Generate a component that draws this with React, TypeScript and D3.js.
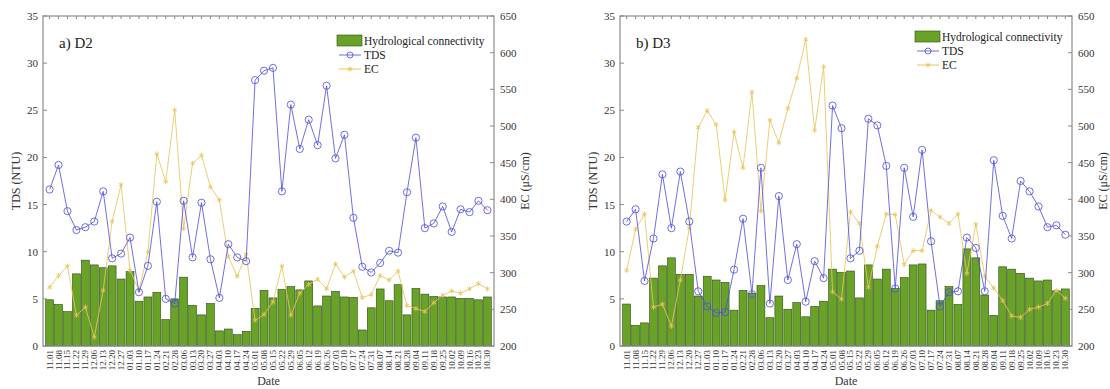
import React from 'react';
import * as d3 from 'd3';

// weekly sampling dates (same for both sites)
const dates = [
  '11.01', '11.08', '11.15', '11.22', '11.29', '12.06', '12.13', '12.20', '12.27', '01.03',
  '01.10', '01.17', '01.24', '02.21', '02.28', '03.06', '03.13', '03.20', '03.27', '04.03',
  '04.10', '04.17', '04.24', '05.01', '05.08', '05.15', '05.22', '05.29', '06.05', '06.12',
  '06.19', '06.26', '07.03', '07.10', '07.17', '07.24', '07.31', '08.07', '08.14', '08.21',
  '08.28', '09.04', '09.11', '09.18', '09.25', '10.02', '10.09', '10.16', '10.23', '10.30',
];

const tdsTicks = [0, 5, 10, 15, 20, 25, 30, 35];
const ecTicks = [200, 250, 300, 350, 400, 450, 500, 550, 600, 650];

// D2
const d2Connectivity = [
  4.9, 4.4, 3.65, 7.65, 9.1, 8.6, 8.3, 8.5, 7.1, 7.9,
  4.75, 5.2, 5.7, 2.8, 5.0, 7.3, 4.3, 3.3, 4.5, 1.6,
  1.8, 1.2, 1.55, 4.0, 5.9, 5.1, 6.0, 6.3, 5.95, 6.9,
  4.25, 5.3, 5.8, 5.2, 5.15, 1.7, 4.05, 6.05, 4.8, 6.5,
  3.3, 6.1, 5.5, 5.25, 5.2, 5.2, 5.05, 5.05, 4.9, 5.2,
];
const d2Tds = [
  16.6, 19.2, 14.3, 12.3, 12.6, 13.2, 16.4, 9.3, 9.8, 11.5,
  5.7, 8.5, 15.3, 5.0, 4.5, 15.4, 9.4, 15.2, 9.2, 5.1,
  10.8, 9.4, 9.0, 28.2, 29.2, 29.5, 16.4, 25.6, 20.9, 24.0,
  21.3, 27.6, 19.9, 22.4, 13.6, 8.4, 7.8, 8.8, 10.1, 9.9,
  16.3, 22.1, 12.5, 13.0, 14.8, 12.1, 14.5, 14.2, 15.4, 14.4,
];
const d2Ec = [
  280, 296, 309, 242, 253, 212, 276, 370, 420, 303,
  276, 328, 462, 424, 522, 360, 449, 460, 417, 399,
  322, 295, 325, 235, 243, 260, 309, 242, 272, 284,
  291, 278, 312, 294, 302, 266, 270, 296, 290, 302,
  255, 251, 247, 259, 269, 275, 272, 278, 285, 278,
];

// D3
const d3Connectivity = [
  4.45, 2.2, 2.45, 7.2, 8.5, 9.35, 7.6, 7.6, 5.3, 7.4,
  7.0, 6.75, 3.8, 5.9, 5.6, 6.4, 3.0, 5.3, 3.9, 4.6,
  3.1, 4.2, 4.75, 8.15, 7.8, 7.95, 5.1, 8.6, 7.1, 8.15,
  6.1, 7.25, 8.6, 8.7, 3.8, 4.8, 6.3, 4.4, 10.3, 9.35,
  5.4, 3.25, 8.4, 8.15, 7.7, 7.2, 6.9, 7.0, 5.85, 6.05,
];
const d3Tds = [
  13.2, 14.5, 6.9, 11.4, 18.2, 12.5, 18.5, 13.2, 5.8, 4.2,
  3.5, 3.6, 8.1, 13.5, 5.5, 18.9, 4.5, 15.9, 7.0, 10.8,
  4.7, 9.0, 7.2, 25.5, 23.1, 9.3, 10.1, 24.1, 23.4, 19.1,
  6.1, 18.9, 13.7, 20.8, 11.1, 4.2, 5.7, 5.8, 11.5, 10.4,
  5.8, 19.7, 13.8, 11.4, 17.5, 16.4, 14.8, 12.6, 12.8, 11.8,
];
const d3Ec = [
  303, 359, 380, 253, 257, 227, 290, 361, 498, 521,
  502, 399, 492, 443, 546, 384, 508, 477, 524, 565,
  618, 494, 581, 274, 264, 383, 367, 280, 336, 380,
  379, 311, 330, 330, 385, 376, 367, 380, 299, 366,
  295, 279, 262, 241, 239, 250, 253, 258, 276, 265,
];

const FONT = '"Liberation Serif", "DejaVu Serif", serif';
const GREEN = '#68a328';
const BLUE = '#4b4be0';
const GOLD = '#eac45a';
const AXIS = '#8a8a8a';
const TEXT = '#333';

type PanelProps = {
  x0: number;
  x1: number;
  label: string;
  conn: number[];
  tds: number[];
  ec: number[];
  legendY: number;
};

const top = 16;
const bottom = 346;

const Panel = ({ x0, x1, label, conn, tds, ec, legendY }: PanelProps) => {
  const x = d3.scaleBand<string>().domain(dates).range([x0, x1]).paddingInner(0.12).paddingOuter(0.3);
  const yL = d3.scaleLinear().domain([0, 35]).range([bottom, top]);
  const yR = d3.scaleLinear().domain([200, 650]).range([bottom, top]);
  const cx = (d: string) => (x(d) as number) + x.bandwidth() / 2;

  const tdsLine = d3.line<number>().x((_, i) => cx(dates[i])).y((v) => yL(v));
  const ecLine = d3.line<number>().x((_, i) => cx(dates[i])).y((v) => yR(v));
  const star = d3.symbol().type(d3.symbolAsterisk).size(18)();

  const lx = x1 - 157;

  return (
    <g fontFamily={FONT}>
      {/* bars */}
      {conn.map((v, i) => (
        <rect key={'b' + i} x={x(dates[i])} y={yL(v)} width={x.bandwidth()} height={bottom - yL(v)}
          fill={GREEN} stroke="#2f4a12" strokeWidth={0.6} />
      ))}

      {/* EC */}
      <path d={ecLine(ec) as string} fill="none" stroke={GOLD} strokeWidth={1} opacity={0.85} />
      {ec.map((v, i) => (
        <path key={'e' + i} d={star as string} transform={`translate(${cx(dates[i])},${yR(v)})`}
          fill="none" stroke={GOLD} strokeWidth={1} opacity={0.85} />
      ))}

      {/* TDS */}
      <path d={tdsLine(tds) as string} fill="none" stroke={BLUE} strokeWidth={1} opacity={0.8} />
      {tds.map((v, i) => (
        <circle key={'t' + i} cx={cx(dates[i])} cy={yL(v)} r={3.6} fill="none" stroke={BLUE}
          strokeWidth={1} opacity={0.8} />
      ))}

      {/* frame */}
      <rect x={x0} y={top} width={x1 - x0} height={bottom - top} fill="none" stroke={AXIS} strokeWidth={1.2} />

      {/* category ticks top & bottom */}
      {dates.map((d) => (
        <g key={'tk' + d}>
          <line x1={cx(d)} x2={cx(d)} y1={top} y2={top + 3} stroke={AXIS} />
          <line x1={cx(d)} x2={cx(d)} y1={bottom} y2={bottom - 3} stroke={AXIS} />
          <text transform={`translate(${cx(d) + 3},${bottom + 4}) rotate(-90)`} textAnchor="end"
            fontSize={9} fill={TEXT}>{d}</text>
        </g>
      ))}

      {/* left axis */}
      {tdsTicks.map((t) => (
        <g key={'l' + t}>
          <line x1={x0} x2={x0 + 4} y1={yL(t)} y2={yL(t)} stroke={AXIS} />
          <text x={x0 - 5} y={yL(t) + 4} textAnchor="end" fontSize={11} fill={TEXT}>{t}</text>
        </g>
      ))}

      {/* right axis */}
      {ecTicks.map((t) => (
        <g key={'r' + t}>
          <line x1={x1} x2={x1 - 4} y1={yR(t)} y2={yR(t)} stroke={AXIS} />
          <text x={x1 + 6} y={yR(t) + 4} textAnchor="start" fontSize={11} fill={TEXT}>{t}</text>
        </g>
      ))}

      {/* titles */}
      <text transform={`translate(${x0 - 23},${(top + bottom) / 2}) rotate(-90)`} textAnchor="middle"
        fontSize={12} fill={TEXT}>TDS (NTU)</text>
      <text transform={`translate(${x1 + 35},${(top + bottom) / 2}) rotate(-90)`} textAnchor="middle"
        fontSize={12} fill={TEXT}>EC (μS/cm)</text>
      <text x={(x0 + x1) / 2} y={385} textAnchor="middle" fontSize={12} fill={TEXT}>Date</text>
      <text x={x0 + 16} y={48} fontSize={15} fill="#222">{label}</text>

      {/* legend */}
      <rect x={lx} y={legendY - 10} width={25} height={11} fill={GREEN} stroke="#2f4a12" strokeWidth={0.6} />
      <text x={lx + 27} y={legendY} fontSize={11.5} fill="#222">Hydrological connectivity</text>
      <line x1={lx + 2} x2={lx + 24} y1={legendY + 10} y2={legendY + 10} stroke={BLUE} opacity={0.8} />
      <circle cx={lx + 13} cy={legendY + 10} r={3} fill="none" stroke={BLUE} opacity={0.8} />
      <text x={lx + 27} y={legendY + 14} fontSize={11.5} fill="#222">TDS</text>
      <line x1={lx + 2} x2={lx + 24} y1={legendY + 24} y2={legendY + 24} stroke={GOLD} />
      <path d={star as string} transform={`translate(${lx + 13},${legendY + 24})`} fill="none" stroke={GOLD} />
      <text x={lx + 27} y={legendY + 28} fontSize={11.5} fill="#222">EC</text>
    </g>
  );
};

export default function App() {
  return (
    <svg width={1110} height={389} style={{ position: 'absolute', left: 0, top: 0, background: '#fff' }}>
      <Panel x0={43} x1={494} label="a) D2" conn={d2Connectivity} tds={d2Tds} ec={d2Ec} legendY={45} />
      <Panel x0={620} x1={1072} label="b) D3" conn={d3Connectivity} tds={d3Tds} ec={d3Ec} legendY={41} />
    </svg>
  );
}
